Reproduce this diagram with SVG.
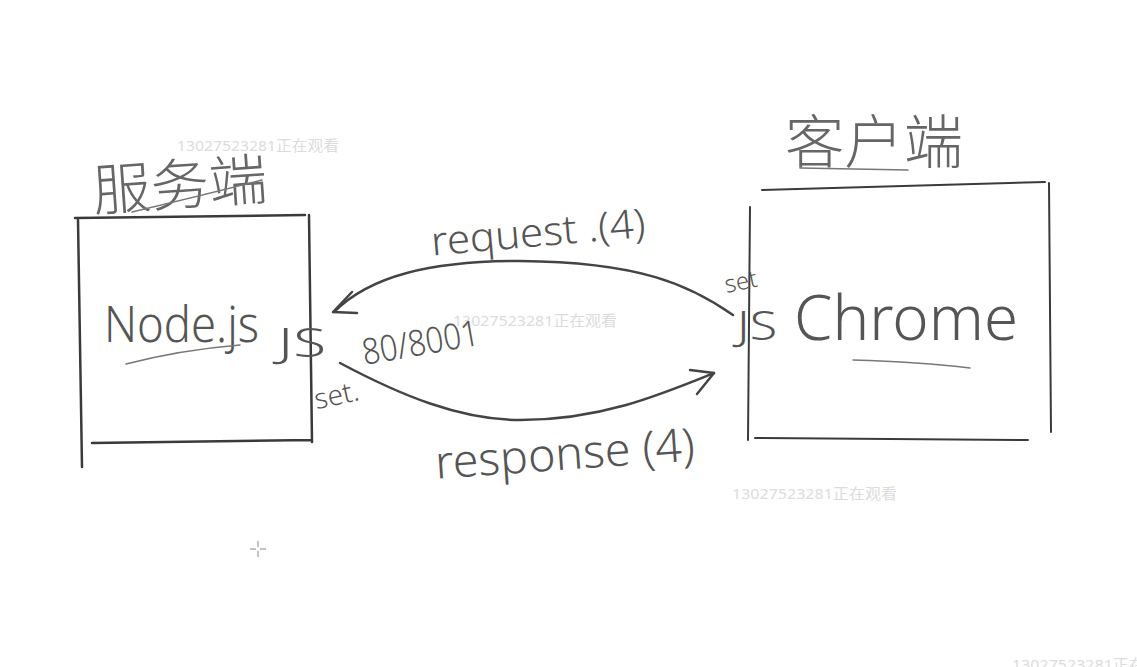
<svg xmlns="http://www.w3.org/2000/svg" width="1137" height="667" viewBox="0 0 1137 667">
<defs>
<style>
.box{fill:none;stroke:#3a3a3a;stroke-width:2.5;stroke-linecap:round}
.ul{fill:none;stroke:#777;stroke-width:1.5;stroke-linecap:round}
.hw{font-family:"Noto Sans","Noto Sans CJK SC",sans-serif;font-weight:300;fill:#555}
.cjk{font-family:"Noto Sans CJK SC",sans-serif;font-weight:300;fill:#666}
.conn{fill:none;stroke:#444;stroke-width:2.5;stroke-linecap:round;stroke-linejoin:round}
.wm{font-family:"Noto Sans","Noto Sans CJK SC",sans-serif;font-size:15px;fill:#dcdcdc}
</style>
</defs>
<rect width="1137" height="667" fill="#ffffff"/>
<g id="watermarks">
<text class="wm" x="177" y="151" textLength="162" lengthAdjust="spacingAndGlyphs">13027523281正在观看</text>
<text class="wm" x="453" y="326" textLength="164" lengthAdjust="spacingAndGlyphs">13027523281正在观看</text>
<text class="wm" x="732" y="499" textLength="165" lengthAdjust="spacingAndGlyphs">13027523281正在观看</text>
<text class="wm" x="1012" y="670" textLength="165" lengthAdjust="spacingAndGlyphs">13027523281正在观看</text>
</g>
<g id="server">
<text class="cjk" x="92" y="205" font-size="56" textLength="175" lengthAdjust="spacingAndGlyphs" transform="rotate(-4 180 180)">服务端</text>
<path class="ul" d="M132 212 Q200 196 262 180"/>
<path class="box" d="M75 218 L305 215 M78 220 L82 467 M309 215 L312 442 M92 443 L312 440"/>
<text class="hw" x="104" y="342" font-size="50" textLength="155" lengthAdjust="spacingAndGlyphs">Node.js</text>
<path class="ul" d="M126 364 Q180 350 240 345"/>
<text class="hw" x="278" y="357" font-size="40" textLength="48" lengthAdjust="spacingAndGlyphs">JS</text>
<text class="hw" x="360" y="355" font-size="36" textLength="118" lengthAdjust="spacingAndGlyphs" transform="rotate(-10 420 335)">80/8001</text>
<text class="hw" x="314" y="405" font-size="28" transform="rotate(-12 335 395)">set.</text>
</g>
<g id="client">
<text class="cjk" x="785" y="163" font-size="58" textLength="178" lengthAdjust="spacingAndGlyphs">客户端</text>
<path class="ul" d="M800 168 L908 170"/>
<path class="box" d="M762 190 L1045 182 M1049 183 L1051 432 M750 207 L748 440 M755 438 L1028 440" style="stroke-width:2"/>
<text class="hw" x="737" y="340" font-size="40" textLength="40" lengthAdjust="spacingAndGlyphs">JS</text>
<text class="hw" x="794" y="340" font-size="62" textLength="224" lengthAdjust="spacingAndGlyphs">Chrome</text>
<path class="ul" d="M853 360 Q920 362 970 368"/>
<text class="hw" x="724" y="290" font-size="24" transform="rotate(-12 740 280)">set</text>
</g>
<g id="connectors">
<path class="conn" d="M733 315 C690 285 640 262 520 261 C430 261 370 276 334 312"/>
<path class="conn" d="M352 292 L333 312 L357 313"/>
<text class="hw" x="430" y="246" font-size="40" textLength="215" lengthAdjust="spacingAndGlyphs" transform="rotate(-5 540 225)">request .(4)</text>
<path class="conn" d="M340 363 C400 395 460 420 520 420 C600 420 660 395 714 373"/>
<path class="conn" d="M690 370 L714 373 L697 394"/>
<text class="hw" x="435" y="470" font-size="46" textLength="260" lengthAdjust="spacingAndGlyphs" transform="rotate(-4 560 455)">response (4)</text>
</g>
<g id="cursor" stroke="#888" stroke-width="1">
<path d="M258 541 V547 M258 551 V557 M250 549 H256 M260 549 H266"/>
</g>
</svg>
